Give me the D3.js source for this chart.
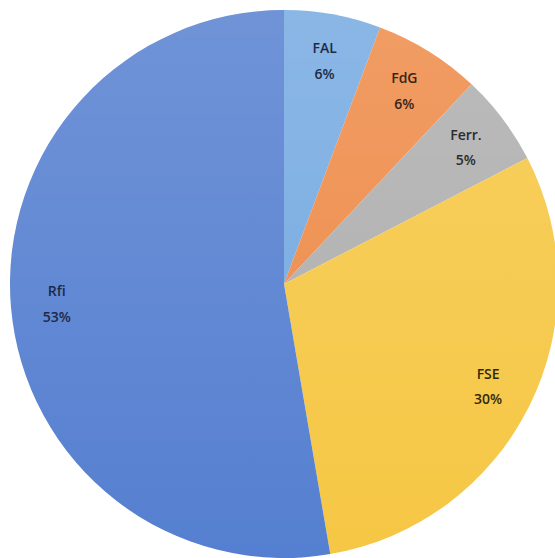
<!DOCTYPE html>
<html>
<head>
<meta charset="utf-8">
<script src="https://cdn.jsdelivr.net/npm/d3@7"></script>
<style>
  html, body { margin: 0; padding: 0; background: #fff; }
  svg { display: block; }
  .lbl { font-family: "Open Sans", "Noto Sans", sans-serif; font-size: 14px; font-weight: 600; }
</style>
</head>
<body>
<svg id="chart"></svg>
<script>
const labels = ['FAL', 'FdG', 'Ferr.', 'FSE', 'Rfi'];
const values = [5.7, 6.3, 5.4, 29.9, 52.7];
const percents = ['6%', '6%', '5%', '30%', '53%'];
const colors = ['#74a9e1', '#ee8a47', '#aeaeae', '#f6c744', '#557fd0'];
const textColors = ['#1e2b45', '#3a2416', '#2b2b2b', '#33290a', '#1c2a4a'];

const width = 555, height = 558;
const cx = 284, cy = 284, radius = 274;

const svg = d3.select('#chart')
  .attr('width', width)
  .attr('height', height);

const defs = svg.append('defs');
const grad = defs.append('linearGradient')
  .attr('id', 'shade')
  .attr('x1', 0).attr('y1', 0).attr('x2', 0).attr('y2', 1);
grad.append('stop').attr('offset', '0%').attr('stop-color', '#fff').attr('stop-opacity', 0.16);
grad.append('stop').attr('offset', '100%').attr('stop-color', '#fff').attr('stop-opacity', 0);

const pie = d3.pie().sort(null).value(d => d);
const arcs = pie(values);
const arc = d3.arc().innerRadius(0).outerRadius(radius);
const labelArc = d3.arc().innerRadius(228).outerRadius(228);

const g = svg.append('g').attr('transform', `translate(${cx},${cy})`);

g.selectAll('path.slice').data(arcs).enter().append('path')
  .attr('class', 'slice')
  .attr('d', arc)
  .attr('fill', (d, i) => colors[i]);

// soft top-to-bottom sheen like the original
g.append('circle')
  .attr('r', radius)
  .attr('fill', 'url(#shade)');

const lbl = g.selectAll('text.lbl').data(arcs).enter().append('text')
  .attr('class', 'lbl')
  .attr('text-anchor', 'middle')
  .attr('fill', (d, i) => textColors[i])
  .attr('transform', d => `translate(${labelArc.centroid(d)})`);

lbl.append('tspan').attr('x', 0).attr('dy', '-0.5em').text((d, i) => labels[i]);
lbl.append('tspan').attr('x', 0).attr('dy', '1.85em').text((d, i) => percents[i]);
</script>
</body>
</html>
